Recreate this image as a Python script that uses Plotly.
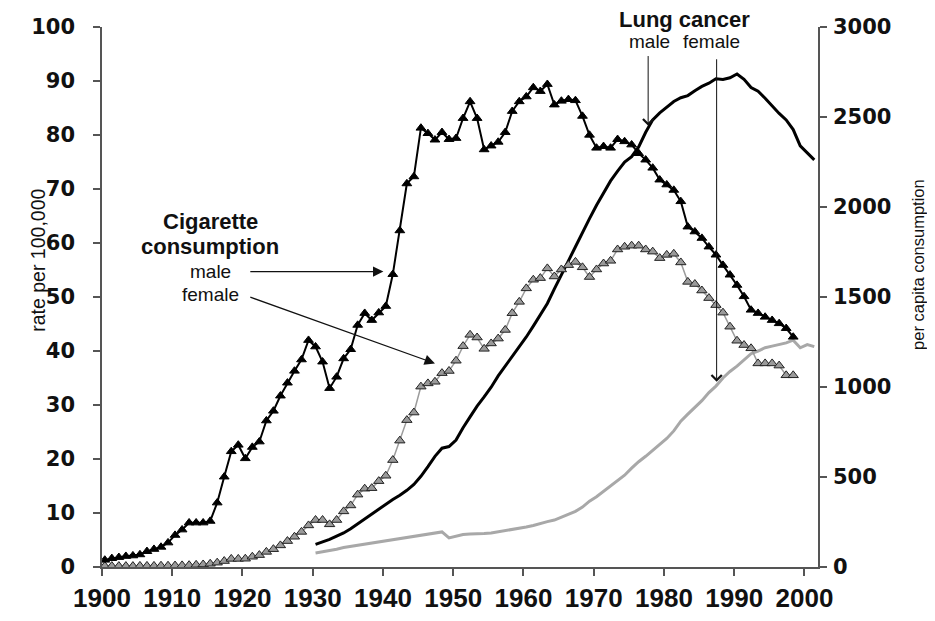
import plotly.graph_objects as go

# ---------------- data ----------------
cig_years = list(range(1900, 1999))
male_cig = [
    39, 48, 54, 60, 63, 69, 87, 99, 111, 135,
    177, 207, 246, 246, 246, 255, 357, 501, 642, 678,
    603, 666, 696, 813, 867, 951, 1023, 1089, 1152, 1260,
    1224, 1140, 993, 1056, 1158, 1209, 1344, 1410, 1371, 1413,
    1449, 1626, 1869, 2130, 2169, 2439, 2409, 2373, 2415, 2376,
    2382, 2493, 2586, 2493, 2319, 2340, 2361, 2415, 2532, 2586,
    2613, 2664, 2643, 2682, 2568, 2589, 2598, 2592, 2505, 2400,
    2328, 2337, 2328, 2376, 2364, 2346, 2298, 2262, 2217, 2151,
    2124, 2094, 2031, 1890, 1863, 1827, 1779, 1734, 1677, 1623,
    1566, 1503, 1428, 1410, 1389, 1371, 1353, 1326, 1278,
]
female_cig = [
    5, 5, 5, 5, 5, 6, 6, 6, 7, 7,
    8, 9, 10, 12, 14, 18, 24, 33, 45, 45,
    46, 57, 66, 84, 99, 120, 144, 168, 195, 231,
    261, 261, 237, 261, 309, 342, 402, 435, 438, 477,
    507, 594, 702, 816, 858, 1002, 1020, 1029, 1077, 1089,
    1146, 1227, 1290, 1275, 1212, 1242, 1269, 1317, 1410, 1473,
    1548, 1596, 1605, 1659, 1614, 1653, 1677, 1695, 1665, 1611,
    1653, 1686, 1701, 1764, 1779, 1785, 1785, 1764, 1752, 1716,
    1734, 1740, 1692, 1584, 1572, 1536, 1494, 1455, 1413, 1335,
    1257, 1233, 1215, 1131, 1131, 1131, 1119, 1065, 1065,
]
lung_years = list(range(1930, 2002))
male_lung = [
    4.2, 4.6, 5.1, 5.7, 6.3, 7.1, 8.0, 8.9, 9.8, 10.8,
    11.7, 12.5, 13.3, 14.2, 15.3, 16.8, 18.6, 20.5, 22.0, 22.3,
    23.5, 25.8, 27.8, 29.8, 31.5, 33.3, 35.4, 37.2, 38.9, 40.7,
    42.6, 44.6, 46.6, 48.8, 51.5, 54.0, 56.7, 59.3, 62.0, 64.5,
    67.0, 69.3, 71.5, 73.3, 75.0, 76.0, 77.8, 80.5, 82.8, 84.1,
    85.2, 86.2, 86.9, 87.3, 88.2, 89.0, 89.6, 90.4, 90.3, 90.6,
    91.3, 90.3, 88.8, 88.1, 86.8, 85.3, 84.0, 82.8, 81.0, 78.0,
    76.6, 75.4,
]
female_lung = [
    2.6, 2.8, 3.0, 3.3, 3.6, 3.8, 4.1, 4.3, 4.4, 4.6,
    4.8, 5.0, 5.2, 5.4, 5.6, 5.8, 6.0, 6.3, 6.5, 5.4,
    5.7, 6.0, 6.1, 6.1, 6.2, 6.3, 6.5, 6.7, 6.9, 7.1,
    7.4, 7.7, 8.1, 8.4, 8.7, 9.2, 9.7, 10.3, 11.1, 12.2,
    13.0, 14.0, 15.0, 16.0, 17.0, 18.3, 19.5, 20.5, 21.6, 22.7,
    23.8, 25.2, 27.0, 28.3, 29.5, 30.8, 32.3, 33.5, 35.0, 36.2,
    37.2, 38.4, 39.5, 40.0, 40.6, 40.9, 41.2, 41.5, 42.0, 40.6,
    41.2, 40.8,
]
x_ticks = list(range(1900, 2001, 10))
left_ticks = list(range(0, 101, 10))
right_ticks = list(range(0, 3001, 500))

# annual values drawn at mid-year
MID = 0.4
cx = [y + MID for y in cig_years]
lx = [y + MID for y in lung_years]

AXC = "#555555"
fig = go.Figure()
fig.add_trace(go.Scatter(x=lx, y=female_lung, mode="lines", yaxis="y",
                         line=dict(color="#a8a8a8", width=3)))
fig.add_trace(go.Scatter(x=lx, y=male_lung, mode="lines", yaxis="y",
                         line=dict(color="#000000", width=3)))
fig.add_trace(go.Scatter(x=cx, y=female_cig, mode="lines+markers", yaxis="y2",
                         line=dict(color="#9c9c9c", width=1.5),
                         marker=dict(symbol="triangle-up", size=9, color="#9a9a9a",
                                     line=dict(color="#222222", width=1))))
fig.add_trace(go.Scatter(x=cx, y=male_cig, mode="lines+markers", yaxis="y2",
                         line=dict(color="#000000", width=2),
                         marker=dict(symbol="triangle-up", size=8.5, color="#000000",
                                     line=dict(color="#000000", width=1))))

tickfont = dict(family="DejaVu Sans", size=21, color="#111111", weight="bold")
common = dict(ticks="outside", ticklen=7, tickwidth=1.5, tickcolor=AXC, showline=True,
              linecolor=AXC, linewidth=1.5, showgrid=False, zeroline=False, automargin=False)
fig.update_layout(
    width=919, height=605,
    margin=dict(l=94, r=109, t=19, b=46),
    paper_bgcolor="white", plot_bgcolor="white",
    showlegend=False,
    xaxis=dict(range=[1900, 2001.93], tickvals=x_ticks, tickangle=0, ticklabelstandoff=0,
               tickfont=dict(family="Liberation Sans, Arial", size=26,
                             color="#111111", weight="bold"), **common),
    yaxis=dict(range=[0, 100], tickvals=left_ticks, tickfont=tickfont,
               ticklabelstandoff=14, **common),
    yaxis2=dict(range=[0, 3000], tickvals=right_ticks, overlaying="y", side="right",
                tickfont=tickfont, ticklabelstandoff=2, **common),
)

TF = "Liberation Sans, Arial, sans-serif"
def label(text, x, y, size, angle=0, ref="data"):
    r = ("x", "y") if ref == "data" else ("paper", "paper")
    return dict(text=text, x=x, y=y, xref=r[0], yref=r[1], showarrow=False,
                xanchor="center", yanchor="middle",
                textangle=angle, font=dict(family=TF, size=size, color="#111111"))

def arrow(x, y, ax, ay, head, size, width):
    return dict(text="", x=x, y=y, ax=ax, ay=ay, xref="x", yref="y", axref="x", ayref="y",
                showarrow=True, arrowhead=head, arrowsize=size, arrowwidth=width,
                arrowcolor="#111111", standoff=0, startstandoff=0)

fig.update_layout(annotations=[
    label("<b>Cigarette</b>", 1915.4, 64.0, 22),
    label("<b>consumption</b>", 1915.4, 59.3, 22),
    label("male", 1915.5, 54.7, 19),
    label("female", 1915.5, 50.4, 19),
    arrow(1940.06, 54.7, 1920.9, 54.7, 2, 1.6, 1.3),
    arrow(1947.4, 37.7, 1920.9, 50.06, 2, 1.6, 1.3),
    label("<b>Lung cancer</b>", 0.8142, 1.0135, 22, ref="paper"),
    label("male", 1977.95, 97.3, 19),
    label("female", 1986.8, 97.3, 19),
    arrow(1977.75, 81.7, 1977.75, 94.9, 4, 2, 1),
    arrow(1987.5, 34.3, 1987.5, 94.3, 4, 2, 1),
    label("rate per 100,000", -0.089, 0.5676, 19.5, -90, ref="paper"),
    label("per capita consumption", 1.1395, 0.5611, 16.5, -90, ref="paper"),
])

fig.write_html("out.html")
